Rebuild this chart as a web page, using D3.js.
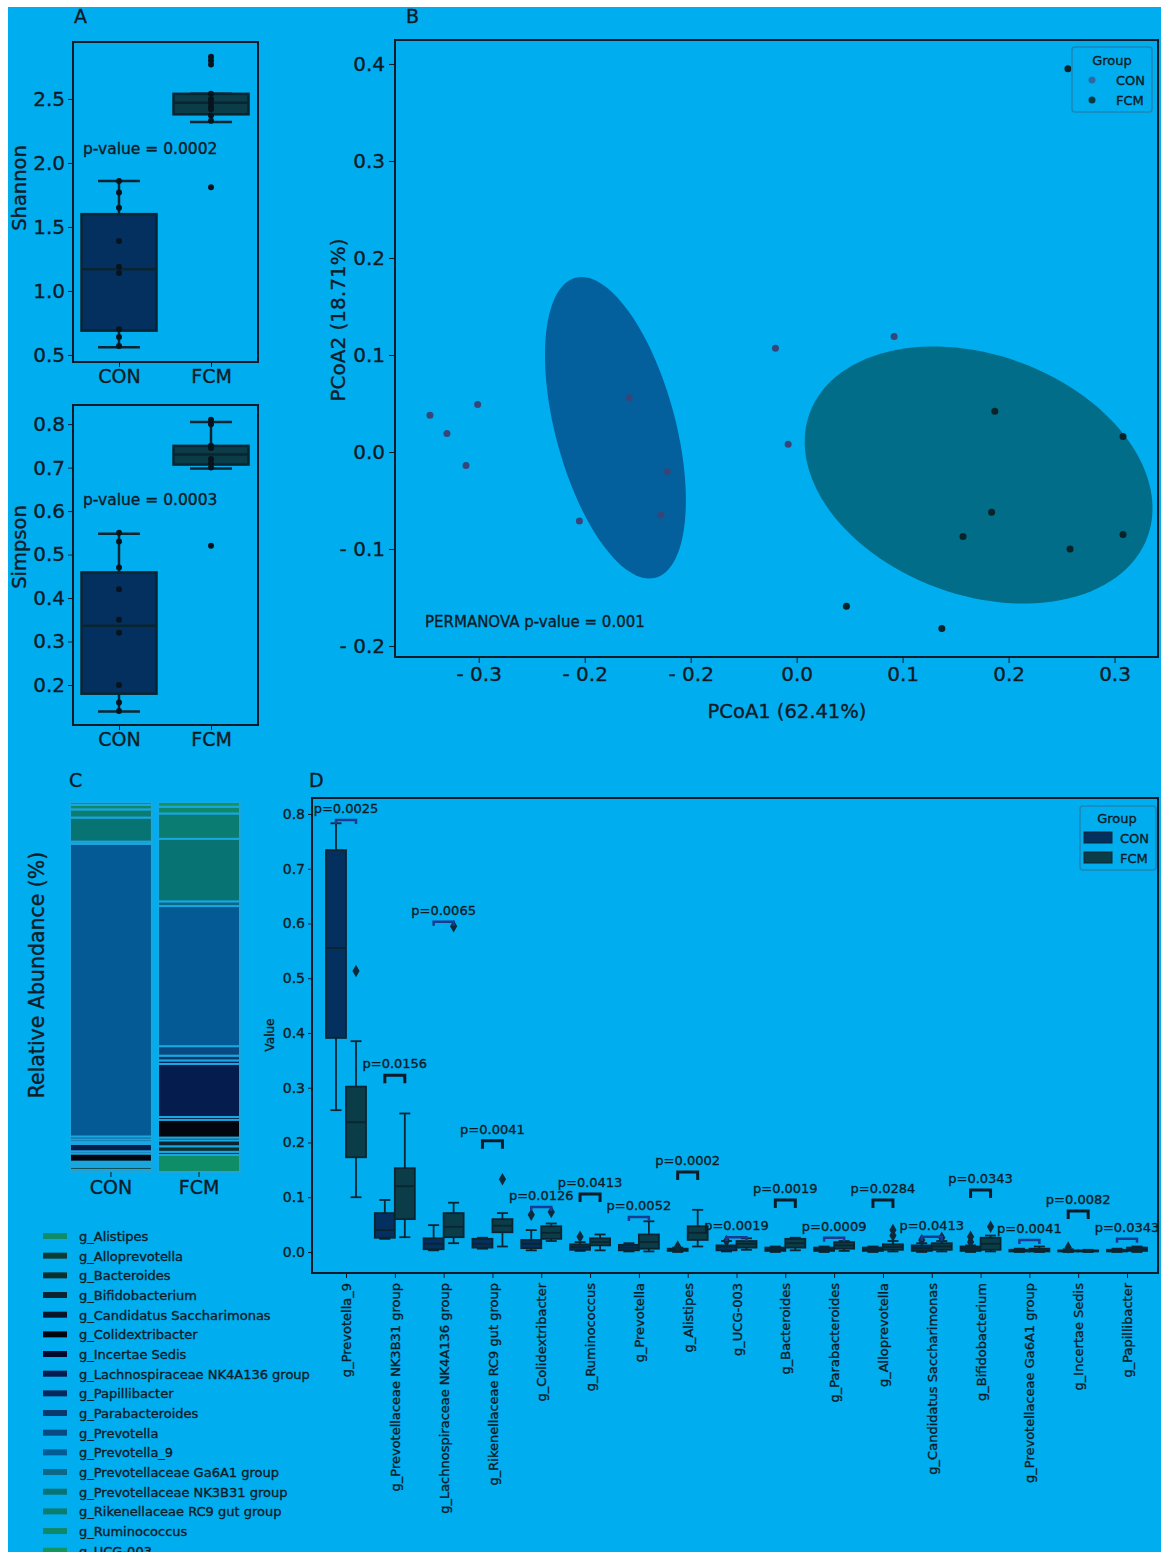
<!DOCTYPE html>
<html>
<head>
<meta charset="utf-8">
<script src="https://cdn.jsdelivr.net/npm/d3@7.9.0/dist/d3.min.js"></script>
<style>
  body { margin: 0; background: #fff; }
  svg { display: block; }
  text { font-family: "DejaVu Sans", sans-serif; fill: #0b1b27; stroke: #0b1b27; stroke-width: 0.35px; }
</style>
</head>
<body>
<svg id="fig" width="1161" height="1552"></svg>
<script>
// ---------- data ----------
const groups = ["CON", "FCM"];

// A: alpha diversity (points + box stats [low, q1, median, q3, high])
const shannonCON = [1.86, 1.77, 1.65, 1.39, 1.19, 1.14, 0.70, 0.64, 0.57];
const shannonFCM = [2.83, 2.80, 2.77, 2.54, 2.50, 2.47, 2.44, 2.42, 2.37, 2.33, 1.81];
const shannonBox = [[0.56, 0.69, 1.17, 1.60, 1.86], [2.32, 2.38, 2.47, 2.54, 2.54]];
const simpsonCON = [0.55, 0.53, 0.47, 0.42, 0.35, 0.32, 0.20, 0.16, 0.14];
const simpsonFCM = [0.81, 0.80, 0.75, 0.745, 0.72, 0.71, 0.70, 0.52];
const simpsonBox = [[0.139, 0.18, 0.336, 0.459, 0.548], [0.698, 0.707, 0.73, 0.75, 0.805]];

// B: PCoA
const pcoaCONx = [-0.346, -0.330, -0.312, -0.301, -0.205, -0.158, -0.122, -0.128, -0.020, -0.008, 0.092];
const pcoaCONy = [0.038, 0.019, -0.014, 0.049, -0.071, 0.056, -0.020, -0.065, 0.107, 0.008, 0.119];
const pcoaFCMx = [0.256, 0.187, 0.308, 0.184, 0.157, 0.258, 0.308, 0.047, 0.137];
const pcoaFCMy = [0.395, 0.042, 0.016, -0.062, -0.087, -0.100, -0.085, -0.159, -0.182];
// confidence ellipses: centre, major axis vector, minor axis vector (data units)
const ellCentre = [[-0.171, 0.025], [0.1717, -0.0237]];
const ellMajor = [[-0.0378, 0.1546], [0.1595, -0.0635]];
const ellMinor = [[0.0547, 0.016], [-0.0387, -0.1163]];
const pcoaXTicks = [-0.3, -0.2, -0.1, 0, 0.1, 0.2, 0.3];
const pcoaXLabels = ["- 0.3", "- 0.2", "- 0.2", "0.0", "0.1", "0.2", "0.3"];
const pcoaYTicks = [-0.2, -0.1, 0, 0.1, 0.2, 0.3, 0.4];
const pcoaYLabels = ["- 0.2", "- 0.1", "0.0", "0.1", "0.2", "0.3", "0.4"];

// C: relative abundance (stack order bottom -> top)
const genera = ["g_Alistipes", "g_Alloprevotella", "g_Bacteroides", "g_Bifidobacterium",
  "g_Candidatus Saccharimonas", "g_Colidextribacter", "g_Incertae Sedis",
  "g_Lachnospiraceae NK4A136 group", "g_Papillibacter", "g_Parabacteroides", "g_Prevotella",
  "g_Prevotella_9", "g_Prevotellaceae Ga6A1 group", "g_Prevotellaceae NK3B31 group",
  "g_Rikenellaceae RC9 gut group", "g_Ruminococcus", "g_UCG-003"];
const abundCON = [0.6, 0.8, 0.5, 0.5, 0.4, 2.2, 0.6, 2.0, 0.5, 0.7, 0.8, 79.1, 0.6, 6.5, 2.2, 1.2, 0.8];
const abundFCM = [4.3, 0.8, 1.4, 1.5, 0.7, 4.5, 0.7, 13.4, 0.9, 1.2, 2.4, 35.4, 1.2, 15.8, 6.4, 1.7, 1.2];
const generaColors = ["#0f8c68", "#0c3d34", "#0b2f2e", "#0a2430", "#07162b", "#02060f", "#040a2c",
  "#041c4e", "#07285c", "#09386e", "#0a4a82", "#045a94", "#0d6888", "#087373", "#0a7c72",
  "#0f8869", "#149560"];

// D: differential genera, box stats [low, q1, median, q3, high]
const dCats = ["g_Prevotella_9", "g_Prevotellaceae NK3B31 group", "g_Lachnospiraceae NK4A136 group",
  "g_Rikenellaceae RC9 gut group", "g_Colidextribacter", "g_Ruminococcus", "g_Prevotella",
  "g_Alistipes", "g_UCG-003", "g_Bacteroides", "g_Parabacteroides", "g_Alloprevotella",
  "g_Candidatus Saccharimonas", "g_Bifidobacterium", "g_Prevotellaceae Ga6A1 group",
  "g_Incertae Sedis", "g_Papillibacter"];
const dBoxCON = [
  [0.259, 0.391, 0.555, 0.734, 0.783], [0.024, 0.026, 0.040, 0.071, 0.095],
  [0.003, 0.005, 0.015, 0.025, 0.049], [0.006, 0.008, 0.015, 0.024, 0.026],
  [0.003, 0.007, 0.015, 0.022, 0.040], [0.002, 0.004, 0.009, 0.014, 0.018],
  [0.001, 0.003, 0.008, 0.013, 0.016], [0.000, 0.002, 0.004, 0.006, 0.008],
  [0.001, 0.003, 0.010, 0.012, 0.020], [0.000, 0.002, 0.005, 0.008, 0.010],
  [0.000, 0.002, 0.005, 0.008, 0.010], [0.000, 0.002, 0.005, 0.008, 0.010],
  [0.000, 0.002, 0.007, 0.012, 0.016], [0.000, 0.002, 0.006, 0.010, 0.012],
  [0.000, 0.001, 0.002, 0.004, 0.006], [0.000, 0.001, 0.002, 0.003, 0.005],
  [0.000, 0.001, 0.002, 0.004, 0.006]];
const dBoxFCM = [
  [0.100, 0.173, 0.237, 0.302, 0.385], [0.027, 0.060, 0.120, 0.153, 0.253],
  [0.016, 0.027, 0.046, 0.071, 0.090], [0.010, 0.036, 0.048, 0.060, 0.071],
  [0.020, 0.024, 0.035, 0.047, 0.052], [0.003, 0.012, 0.018, 0.025, 0.032],
  [0.001, 0.006, 0.018, 0.032, 0.056], [0.010, 0.022, 0.035, 0.047, 0.077],
  [0.004, 0.008, 0.015, 0.020, 0.025], [0.003, 0.008, 0.016, 0.024, 0.026],
  [0.002, 0.006, 0.012, 0.018, 0.020], [0.001, 0.004, 0.009, 0.014, 0.020],
  [0.001, 0.004, 0.010, 0.016, 0.020], [0.001, 0.004, 0.015, 0.026, 0.030],
  [0.000, 0.001, 0.003, 0.006, 0.010], [0.000, 0.001, 0.002, 0.003, 0.004],
  [0.000, 0.002, 0.005, 0.008, 0.010]];
const dOutCON = [[], [], [], [], [0.068], [0.028], [], [0.010], [0.020], [], [], [], [0.022], [0.018, 0.028], [], [0.008], []];
const dOutFCM = [[0.513], [], [0.595], [0.133], [0.073], [], [], [], [], [], [], [0.030, 0.040], [0.026], [0.046], [], [], []];
const dPvals = ["p=0.0025", "p=0.0156", "p=0.0065", "p=0.0041", "p=0.0126", "p=0.0413", "p=0.0052",
  "p=0.0002", "p=0.0019", "p=0.0019", "p=0.0009", "p=0.0284", "p=0.0413", "p=0.0343",
  "p=0.0041", "p=0.0082", "p=0.0343"];
const dBracket = [0.789, 0.323, 0.603, 0.203, 0.082, 0.106, 0.064, 0.146, 0.027, 0.095, 0.026,
  0.095, 0.028, 0.113, 0.022, 0.075, 0.024];

// ---------- drawing ----------
const ink = "#0b1b27";
const edge = "#0a2532";
const conFill = "#04305f";
const fcmFill = "#0b3d48";
const svg = d3.select("#fig");

svg.append("rect").attr("x", 8).attr("y", 7).attr("width", 1153).attr("height", 1545).attr("fill", "#00aeef");

function label(x, y, txt, size, opts = {}) {
  const t = svg.append("text").attr("x", x).attr("y", y).attr("font-size", size).text(txt);
  if (opts.anchor) t.attr("text-anchor", opts.anchor);
  if (opts.rotate) t.attr("transform", `rotate(-90,${x},${y})`);
  return t;
}

function drawBox(g, cx, y, s, w, capW, fill, lw) {
  const [lo, q1, med, q3, hi] = s;
  const st = (sel) => sel.attr("stroke", edge).attr("stroke-width", lw);
  st(g.append("line").attr("x1", cx).attr("x2", cx).attr("y1", y(hi)).attr("y2", y(q3)));
  st(g.append("line").attr("x1", cx).attr("x2", cx).attr("y1", y(q1)).attr("y2", y(lo)));
  st(g.append("line").attr("x1", cx - capW / 2).attr("x2", cx + capW / 2).attr("y1", y(hi)).attr("y2", y(hi)));
  st(g.append("line").attr("x1", cx - capW / 2).attr("x2", cx + capW / 2).attr("y1", y(lo)).attr("y2", y(lo)));
  st(g.append("rect").attr("x", cx - w / 2).attr("y", y(q3)).attr("width", w)
    .attr("height", Math.max(1, y(q1) - y(q3))).attr("fill", fill));
  st(g.append("line").attr("x1", cx - w / 2).attr("x2", cx + w / 2).attr("y1", y(med)).attr("y2", y(med)));
}

// ----- panel A -----
function alphaPanel(top, bottom, domain, ticks, pts, boxes, pText, pY, title, titleY) {
  const left = 73, right = 258;
  const x = d3.scalePoint().domain(groups).range([119, 211]);
  const y = d3.scaleLinear().domain(domain).range([bottom, top]);
  const g = svg.append("g");
  g.append("g").attr("transform", `translate(${left},0)`).attr("color", ink)
    .call(d3.axisLeft(y).tickValues(ticks).tickFormat(d3.format(".1f")).tickSize(5).tickPadding(3))
    .call(a => a.select(".domain").remove())
    .selectAll("text").attr("font-size", 20);
  g.append("g").attr("transform", `translate(0,${bottom})`).attr("color", ink)
    .call(d3.axisBottom(x).tickSize(5).tickPadding(3))
    .call(a => a.select(".domain").remove())
    .selectAll("text").attr("font-size", 19);
  groups.forEach((gr, i) => drawBox(g, x(gr), y, boxes[i], 75, 42, i ? fcmFill : conFill, 2.5));
  pts.forEach((arr, i) => {
    g.selectAll(null).data(arr).join("circle")
      .attr("cx", x(groups[i])).attr("cy", d => y(d)).attr("r", 3).attr("fill", "#07141d");
  });
  g.append("rect").attr("x", left).attr("y", top).attr("width", right - left).attr("height", bottom - top)
    .attr("fill", "none").attr("stroke", ink).attr("stroke-width", 2);
  label(83, pY, pText, 15.5);
  label(26, titleY, title, 19.5, { anchor: "middle", rotate: true });
}
alphaPanel(42, 362, [0.445, 2.945], [0.5, 1.0, 1.5, 2.0, 2.5], [shannonCON, shannonFCM], shannonBox,
  "p-value = 0.0002", 154, "Shannon", 188);
alphaPanel(405, 725, [0.108, 0.844], [0.2, 0.3, 0.4, 0.5, 0.6, 0.7, 0.8], [simpsonCON, simpsonFCM], simpsonBox,
  "p-value = 0.0003", 505, "Simpson", 547);

label(74, 23, "A", 19);
label(406, 23, "B", 19);
label(69, 787, "C", 19);
label(309, 787, "D", 19);

// ----- panel B -----
{
  const L = 395, R = 1158, T = 40, B = 657;
  const x = d3.scaleLinear().domain([-0.379, 0.341]).range([L, R]);
  const y = d3.scaleLinear().domain([-0.2113, 0.4247]).range([B, T]);
  const g = svg.append("g");
  const ellColors = ["#03609c", "#026d88"];
  const line = d3.line().x(d => x(d[0])).y(d => y(d[1])).curve(d3.curveLinearClosed);
  ellCentre.forEach((c, i) => {
    const pts = d3.range(0, 2 * Math.PI, Math.PI / 60).map(t => [
      c[0] + ellMajor[i][0] * Math.cos(t) + ellMinor[i][0] * Math.sin(t),
      c[1] + ellMajor[i][1] * Math.cos(t) + ellMinor[i][1] * Math.sin(t)]);
    g.append("path").attr("d", line(pts)).attr("fill", ellColors[i]);
  });
  g.selectAll(null).data(d3.zip(pcoaCONx, pcoaCONy)).join("circle")
    .attr("cx", d => x(d[0])).attr("cy", d => y(d[1])).attr("r", 3.5).attr("fill", "#36467a");
  g.selectAll(null).data(d3.zip(pcoaFCMx, pcoaFCMy)).join("circle")
    .attr("cx", d => x(d[0])).attr("cy", d => y(d[1])).attr("r", 3.5).attr("fill", "#082428");

  g.append("g").attr("transform", `translate(${L},0)`).attr("color", ink)
    .call(d3.axisLeft(y).tickValues(pcoaYTicks).tickFormat((d, i) => pcoaYLabels[i]).tickSize(6).tickPadding(4))
    .call(a => a.select(".domain").remove())
    .selectAll("text").attr("font-size", 20);
  g.append("g").attr("transform", `translate(0,${B})`).attr("color", ink)
    .call(d3.axisBottom(x).tickValues(pcoaXTicks).tickFormat((d, i) => pcoaXLabels[i]).tickSize(6).tickPadding(4))
    .call(a => a.select(".domain").remove())
    .selectAll("text").attr("font-size", 20);
  g.append("rect").attr("x", L).attr("y", T).attr("width", R - L).attr("height", B - T)
    .attr("fill", "none").attr("stroke", ink).attr("stroke-width", 2);

  label(425, 627, "PERMANOVA p-value = 0.001", 15);
  label(787, 718, "PCoA1 (62.41%)", 19.5, { anchor: "middle" });
  label(345, 320, "PCoA2 (18.71%)", 20, { anchor: "middle", rotate: true });

  // legend
  g.append("rect").attr("x", 1072).attr("y", 47).attr("width", 80).attr("height", 65).attr("rx", 3)
    .attr("fill", "none").attr("stroke", "#1c86b6").attr("stroke-width", 1.5);
  label(1112, 65, "Group", 13, { anchor: "middle" });
  const legCol = ["#2a6aa6", "#0b3a40"];
  groups.forEach((gr, i) => {
    g.append("circle").attr("cx", 1092).attr("cy", 80 + i * 20).attr("r", 3.5).attr("fill", legCol[i]);
    label(1116, 85 + i * 20, gr, 13);
  });
}

// ----- panel C -----
{
  const T = 802, B = 1172;
  const x = d3.scaleBand().domain(groups).range([70, 240]).paddingInner(0.07);
  const y = d3.scaleLinear().domain([0, 1]).range([B, T]);
  const rows = groups.map((gr, i) => {
    const r = { group: gr };
    genera.forEach((k, j) => { r[k] = [abundCON, abundFCM][i][j]; });
    return r;
  });
  const series = d3.stack().keys(genera).offset(d3.stackOffsetExpand)(rows);
  const color = d3.scaleOrdinal().domain(genera).range(generaColors);
  const g = svg.append("g");
  g.selectAll("g").data(series).join("g").attr("fill", d => color(d.key))
    .selectAll("rect").data(d => d).join("rect")
    .attr("x", d => x(d.data.group)).attr("width", x.bandwidth())
    .attr("y", d => y(d[1])).attr("height", d => y(d[0]) - y(d[1]))
    .attr("stroke", "#1aa6df").attr("stroke-width", 2);
  g.append("g").attr("transform", `translate(0,${B})`).attr("color", ink)
    .call(d3.axisBottom(x).tickSize(5).tickPadding(4))
    .call(a => a.select(".domain").remove())
    .selectAll("text").attr("font-size", 19);
  label(44, 975, "Relative Abundance (%)", 20.5, { anchor: "middle", rotate: true });

  genera.forEach((k, i) => {
    const yy = 1236 + i * 19.67;
    g.append("rect").attr("x", 43).attr("y", yy - 3).attr("width", 24).attr("height", 6).attr("fill", color(k));
    label(79, yy + 5, k, 13);
  });
}

// ----- panel D -----
{
  const L = 312, R = 1158, T = 798, B = 1273;
  const x = d3.scalePoint().domain(dCats).range([346, 1127]);
  const y = d3.scaleLinear().domain([-0.0384, 0.8292]).range([B, T]);
  const g = svg.append("g");
  g.append("g").attr("transform", `translate(${L},0)`).attr("color", ink)
    .call(d3.axisLeft(y).tickValues(d3.range(0, 0.81, 0.1)).tickFormat(d3.format(".1f")).tickSize(4).tickPadding(3))
    .call(a => a.select(".domain").remove())
    .selectAll("text").attr("font-size", 14);
  g.append("g").attr("transform", `translate(0,${B})`).attr("color", ink)
    .call(d3.axisBottom(x).tickSize(5))
    .call(a => a.select(".domain").remove())
    .selectAll("text").attr("font-size", 13).attr("text-anchor", "end")
    .attr("x", -10).attr("y", 0).attr("dy", "0.35em").attr("transform", "rotate(-90)");
  label(274, 1035, "Value", 12, { anchor: "middle", rotate: true });

  const diamond = d3.symbol().type(d3.symbolDiamond).size(45);
  dCats.forEach((c, i) => {
    const cx = x(c);
    drawBox(g, cx - 10, y, dBoxCON[i], 20, 11, conFill, 1.8);
    drawBox(g, cx + 10, y, dBoxFCM[i], 20, 11, fcmFill, 1.8);
    dOutCON[i].forEach(v => g.append("path").attr("d", diamond)
      .attr("transform", `translate(${cx - 10},${y(v)})`).attr("fill", "#0c2a3a"));
    dOutFCM[i].forEach(v => g.append("path").attr("d", diamond)
      .attr("transform", `translate(${cx + 10},${y(v)})`).attr("fill", "#0c2a3a"));
    // significance bracket
    const yb = y(dBracket[i]);
    const blue = i % 2 === 0;
    const leg = blue ? 4 : 8;
    g.append("path")
      .attr("d", `M${cx - 10},${yb + leg}V${yb}H${cx + 10}V${yb + leg}`)
      .attr("fill", "none").attr("stroke", blue ? "#1b3b92" : ink).attr("stroke-width", blue ? 2.5 : 3);
    label(cx, yb - 7, dPvals[i], 13, { anchor: "middle" });
  });
  g.append("rect").attr("x", L).attr("y", T).attr("width", R - L).attr("height", B - T)
    .attr("fill", "none").attr("stroke", ink).attr("stroke-width", 2);

  // legend
  g.append("rect").attr("x", 1080).attr("y", 806).attr("width", 76).attr("height", 64).attr("rx", 3)
    .attr("fill", "none").attr("stroke", "#1c86b6").attr("stroke-width", 1.5);
  label(1117, 823, "Group", 13, { anchor: "middle" });
  [conFill, fcmFill].forEach((f, i) => {
    g.append("rect").attr("x", 1084).attr("y", 832 + i * 20).attr("width", 28).attr("height", 11)
      .attr("fill", f).attr("stroke", edge).attr("stroke-width", 1);
    label(1120, 843 + i * 20, groups[i], 13);
  });
}
</script>
</body>
</html>
